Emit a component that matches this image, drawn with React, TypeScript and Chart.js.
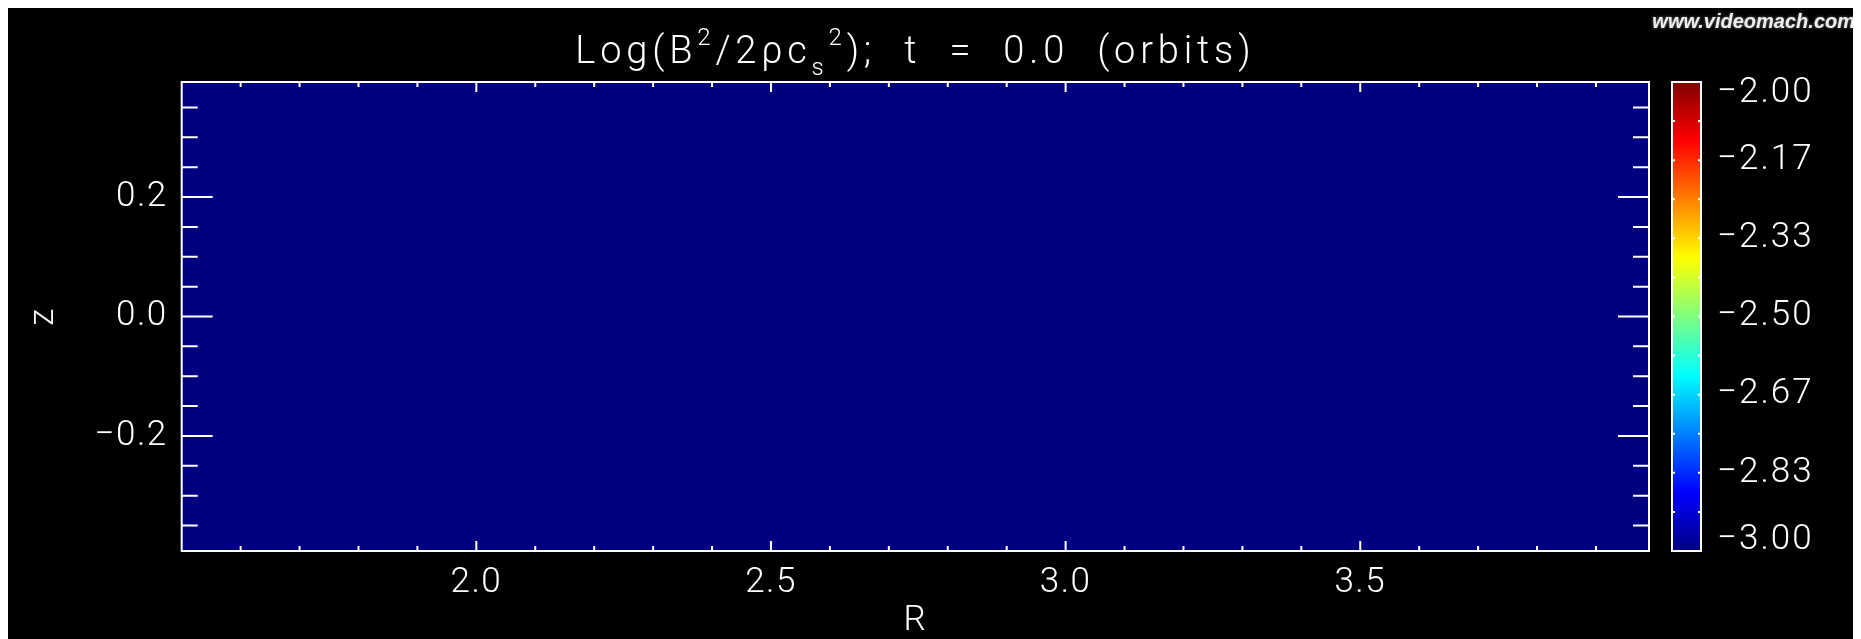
import React, { useEffect, useRef } from 'react';
import { Chart, registerables } from 'chart.js';

Chart.register(...registerables);

// ---- data ----
const R_EDGES = [1.5, 3.99];
const Z_EDGES = [-0.3927, 0.3927];
const FIELD_VALUES = [[-3.0]]; // rows along z, columns along R (uniform at t = 0)

const X_MAJOR = [2.0, 2.5, 3.0, 3.5];
const X_LABELS = ['2.0', '2.5', '3.0', '3.5'];
const X_MINOR = [1.6, 1.7, 1.8, 1.9, 2.1, 2.2, 2.3, 2.4, 2.6, 2.7, 2.8, 2.9, 3.1, 3.2, 3.3, 3.4, 3.6, 3.7, 3.8, 3.9];
const Y_MAJOR = [-0.2, 0.0, 0.2];
const Y_LABELS = ['\u22120.2', '0.0', '0.2'];
const Y_MINOR = [-0.35, -0.3, -0.25, -0.15, -0.1, -0.05, 0.05, 0.1, 0.15, 0.25, 0.3, 0.35];

const CB_MIN = -3.0;
const CB_MAX = -2.0;
const CB_TICKS = [-3.0, -2.8333, -2.6667, -2.5, -2.3333, -2.1667, -2.0];
const CB_LABELS = ['\u22123.00', '\u22122.83', '\u22122.67', '\u22122.50', '\u22122.33', '\u22122.17', '\u22122.00'];
const CB_MINOR = [-2.9167, -2.75, -2.5833, -2.4167, -2.25, -2.0833];

const JET_POS = [0, 0.125, 0.375, 0.625, 0.875, 1];
const JET_RGB = [[0, 0, 128], [0, 0, 255], [0, 255, 255], [255, 255, 0], [255, 0, 0], [128, 0, 0]];

const TITLE_PARTS = [
  { text: 'Log(B', kind: 'n' },
  { text: '2', kind: 'sup' },
  { text: '/2\u03C1c', kind: 'n' },
  { text: 's', kind: 'sub' },
  { text: '2', kind: 'sup' },
  { text: ');  t  =  0.0  (orbits)', kind: 'n' },
];
const WATERMARK = 'www.videomach.com';

// ---- styles ----
const FAMILY = 'Roboto';
const WEIGHT = '300';
const LABEL_SIZE = 35;
const TITLE_SIZE = 38;
const SCRIPT_SIZE = 24;
const TITLE_WIDTH = 680;
const WHITE = '#ffffff';

function jet(t: number): string {
  const v = Math.max(0, Math.min(1, t));
  for (let i = 0; i < JET_POS.length - 1; i++) {
    if (v <= JET_POS[i + 1]) {
      const f = (v - JET_POS[i]) / (JET_POS[i + 1] - JET_POS[i]);
      const a = JET_RGB[i], b = JET_RGB[i + 1];
      const c = a.map((x, k) => Math.round(x + (b[k] - x) * f));
      return `rgb(${c[0]},${c[1]},${c[2]})`;
    }
  }
  const l = JET_RGB[JET_RGB.length - 1];
  return `rgb(${l[0]},${l[1]},${l[2]})`;
}

function findLabel(values: number[], labels: string[], v: number): string {
  for (let i = 0; i < values.length; i++) if (Math.abs(values[i] - v) < 1e-6) return labels[i];
  return '';
}

const idlPlugin = {
  id: 'idlLook',
  beforeDraw(chart: any) {
    const ctx = chart.ctx;
    ctx.save();
    ctx.fillStyle = '#000';
    ctx.fillRect(0, 0, chart.width, chart.height);
    ctx.restore();
    // slightly wider letter spacing for the stroked-font look of the axis labels
    ctx.letterSpacing = '1.5px';
  },
  beforeDatasetsDraw(chart: any) {
    const ctx = chart.ctx;
    const xs = chart.scales.x;
    const ys = chart.scales.y;
    ctx.save();
    for (let j = 0; j < FIELD_VALUES.length; j++) {
      for (let i = 0; i < FIELD_VALUES[j].length; i++) {
        const x0 = xs.getPixelForValue(R_EDGES[i]);
        const x1 = xs.getPixelForValue(R_EDGES[i + 1]);
        const y0 = ys.getPixelForValue(Z_EDGES[j + 1]);
        const y1 = ys.getPixelForValue(Z_EDGES[j]);
        ctx.fillStyle = jet((FIELD_VALUES[j][i] - CB_MIN) / (CB_MAX - CB_MIN));
        ctx.fillRect(x0, y0, x1 - x0, y1 - y0);
      }
    }
    ctx.restore();
  },
  afterDraw(chart: any) {
    const ctx = chart.ctx;
    const a = chart.chartArea;
    const xs = chart.scales.x;
    const ys = chart.scales.y;
    const cb = chart.scales.cb;
    ctx.save();
    ctx.strokeStyle = WHITE;
    ctx.lineWidth = 2;
    // frame
    ctx.strokeRect(a.left, a.top, a.right - a.left, a.bottom - a.top);
    // x ticks (inward, top and bottom)
    const xt = (vals: number[], len: number) => {
      vals.forEach((v) => {
        const px = xs.getPixelForValue(v);
        ctx.beginPath();
        ctx.moveTo(px, a.bottom); ctx.lineTo(px, a.bottom - len);
        ctx.moveTo(px, a.top); ctx.lineTo(px, a.top + len);
        ctx.stroke();
      });
    };
    xt(X_MINOR, 5);
    xt(X_MAJOR, 10);
    // y ticks (inward, left and right)
    const yt = (vals: number[], len: number) => {
      vals.forEach((v) => {
        const py = ys.getPixelForValue(v);
        ctx.beginPath();
        ctx.moveTo(a.left, py); ctx.lineTo(a.left + len, py);
        ctx.moveTo(a.right, py); ctx.lineTo(a.right - len, py);
        ctx.stroke();
      });
    };
    yt(Y_MINOR, 16);
    yt(Y_MAJOR, 31);

    // colorbar
    const cbL = a.right + 23;
    const cbR = a.right + 52;
    const top = cb.getPixelForValue(CB_MAX);
    const bot = cb.getPixelForValue(CB_MIN);
    const grad = ctx.createLinearGradient(0, bot, 0, top);
    JET_POS.forEach((p) => grad.addColorStop(p, jet(p)));
    ctx.fillStyle = grad;
    ctx.fillRect(cbL, top, cbR - cbL, bot - top);
    ctx.strokeRect(cbL, top, cbR - cbL, bot - top);
    [...CB_TICKS, ...CB_MINOR].forEach((v) => {
      const py = cb.getPixelForValue(v);
      ctx.beginPath();
      ctx.moveTo(cbL, py); ctx.lineTo(cbL + 3, py);
      ctx.moveTo(cbR, py); ctx.lineTo(cbR - 3, py);
      ctx.stroke();
    });
    ctx.fillStyle = WHITE;
    ctx.font = `${WEIGHT} ${LABEL_SIZE}px ${FAMILY}`;
    ctx.letterSpacing = '2px';
    ctx.textAlign = 'left';
    ctx.textBaseline = 'middle';
    CB_TICKS.forEach((v, i) => {
      let py = cb.getPixelForValue(v);
      py = Math.max(top + 11, Math.min(bot - 11, py));
      ctx.fillText(CB_LABELS[i], cbR + 16, py);
    });

    // title with super/subscripts, stretched to the reference width
    const mainFont = `${WEIGHT} ${TITLE_SIZE}px ${FAMILY}`;
    const scriptFont = `${WEIGHT} ${SCRIPT_SIZE}px ${FAMILY}`;
    ctx.letterSpacing = '0px';
    let base0 = 0;
    let nChars = 0;
    TITLE_PARTS.forEach((p) => {
      ctx.font = p.kind === 'n' ? mainFont : scriptFont;
      base0 += ctx.measureText(p.text).width;
      nChars += p.text.length;
    });
    const ls = Math.max(0, (TITLE_WIDTH - base0) / nChars);
    ctx.letterSpacing = `${ls}px`;
    let x = (a.left + a.right) / 2 - TITLE_WIDTH / 2;
    const base = 55;
    ctx.textBaseline = 'alphabetic';
    TITLE_PARTS.forEach((p) => {
      ctx.font = p.kind === 'n' ? mainFont : scriptFont;
      const dy = p.kind === 'sup' ? -18 : p.kind === 'sub' ? 12 : 0;
      ctx.fillText(p.text, x, base + dy);
      x += ctx.measureText(p.text).width;
    });

    // watermark
    ctx.letterSpacing = '0px';
    ctx.font = 'italic bold 20px "Liberation Sans"';
    ctx.textAlign = 'right';
    ctx.shadowColor = 'rgba(140,140,140,0.9)';
    ctx.shadowBlur = 3;
    ctx.fillStyle = '#eeeeee';
    ctx.fillText(WATERMARK, chart.width - 6, 20);
    ctx.restore();
  },
};

export default function App() {
  const ref = useRef<HTMLCanvasElement>(null);
  useEffect(() => {
    document.body.style.overflow = 'hidden';
    const canvas = ref.current;
    if (!canvas) return;
    const font = { family: FAMILY, size: LABEL_SIZE, weight: WEIGHT as any };
    const chart = new Chart(canvas, {
      type: 'scatter',
      data: { datasets: [{ data: [] }] },
      options: {
        animation: false,
        responsive: false,
        devicePixelRatio: 1,
        layout: { padding: { top: 74, left: 0, right: 0, bottom: 0 } },
        plugins: {
          legend: { display: false },
          tooltip: { enabled: false },
          title: { display: false },
        },
        scales: {
          x: {
            type: 'linear',
            position: 'bottom',
            min: R_EDGES[0],
            max: R_EDGES[R_EDGES.length - 1],
            grid: { display: false, drawTicks: false },
            border: { display: false },
            afterBuildTicks: (s: any) => { s.ticks = X_MAJOR.map((v) => ({ value: v })); },
            afterFit: (s: any) => { s.height = 88; },
            ticks: {
              color: WHITE, font, padding: 11, autoSkip: false, maxRotation: 0, minRotation: 0,
              callback: (v: any) => findLabel(X_MAJOR, X_LABELS, Number(v)),
            },
            title: { display: true, text: 'R', color: WHITE, font, padding: { top: 0, bottom: -3 } },
          },
          y: {
            type: 'linear',
            position: 'left',
            min: Z_EDGES[0],
            max: Z_EDGES[Z_EDGES.length - 1],
            grid: { display: false, drawTicks: false },
            border: { display: false },
            afterBuildTicks: (s: any) => { s.ticks = Y_MAJOR.map((v) => ({ value: v })); },
            afterFit: (s: any) => { s.width = 173.7; },
            ticks: {
              color: WHITE, font, padding: 14, autoSkip: false,
              callback: (v: any) => findLabel(Y_MAJOR, Y_LABELS, Number(v)),
            },
            title: { display: true, text: 'z', color: WHITE, font, padding: { top: 15, bottom: 0 } },
          },
          cb: {
            type: 'linear',
            position: 'right',
            min: CB_MIN,
            max: CB_MAX,
            grid: { display: false, drawTicks: false },
            border: { display: false },
            ticks: { display: false },
            afterFit: (s: any) => { s.width = 212; },
          },
        },
      } as any,
      plugins: [idlPlugin],
    });
    return () => chart.destroy();
  }, []);
  return <canvas ref={ref} width={1853} height={631} style={{ display: 'block' }} />;
}
